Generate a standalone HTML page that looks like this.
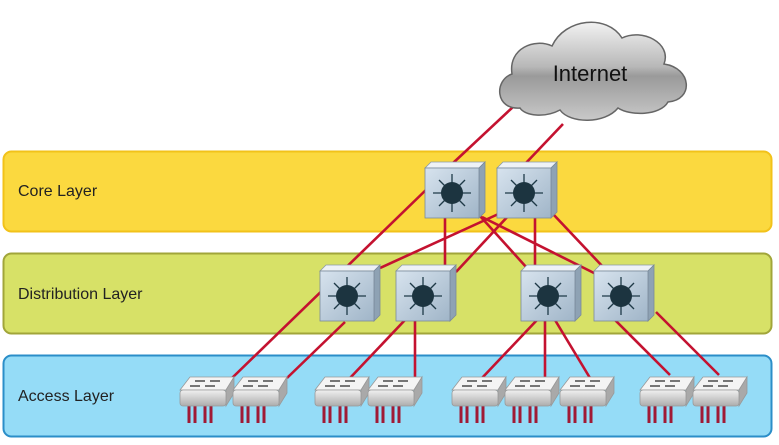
<!DOCTYPE html>
<html><head><meta charset="utf-8"><style>
html,body{margin:0;padding:0;background:#fff;width:779px;height:445px;overflow:hidden}
text{font-family:"Liberation Sans",sans-serif}
</style></head><body>
<svg width="779" height="445" viewBox="0 0 779 445" xmlns="http://www.w3.org/2000/svg">
<defs>
<linearGradient id="cl" x1="0" y1="0" x2="0" y2="1">
<stop offset="0" stop-color="#f2f2f2"/><stop offset="0.45" stop-color="#b8b8b8"/><stop offset="0.55" stop-color="#9a9a9a"/><stop offset="1" stop-color="#c9c9c9"/></linearGradient>
<linearGradient id="sf" x1="0" y1="0" x2="1" y2="1">
<stop offset="0" stop-color="#d7e3ee"/><stop offset="1" stop-color="#a0b5c8"/></linearGradient>
<linearGradient id="af" x1="0" y1="0" x2="0" y2="1">
<stop offset="0" stop-color="#f0f0f0"/><stop offset="1" stop-color="#adadad"/></linearGradient>
<g id="ms">
<path d="M0 6 L6 0 L60 0 L54 6 Z" fill="#eef2f6" stroke="#8a9aaa" stroke-width="0.8"/>
<path d="M54 6 L60 0 L60 50 L54 56 Z" fill="#8ea2b4" stroke="#7a8a9a" stroke-width="0.8"/>
<rect x="0" y="6" width="54" height="50" fill="url(#sf)" stroke="#7a8a9a" stroke-width="0.8"/>
<g stroke="#1f3a48" stroke-width="1.3" fill="#1f3a48">
<line x1="27" y1="31" x2="27" y2="12"/><line x1="27" y1="31" x2="27" y2="50"/>
<line x1="27" y1="31" x2="8" y2="31"/><line x1="27" y1="31" x2="46" y2="31"/>
<line x1="27" y1="31" x2="40" y2="18"/><line x1="27" y1="31" x2="14" y2="44"/>
<line x1="27" y1="31" x2="14" y2="18"/><line x1="27" y1="31" x2="40" y2="44"/>
</g>
<circle cx="27" cy="31" r="11" fill="#1c3440"/>
</g>
<g id="as">
<g stroke="#a01a35" stroke-width="3"><line x1="9" y1="30" x2="9" y2="47"/><line x1="15" y1="30" x2="15" y2="47"/><line x1="25" y1="30" x2="25" y2="47"/><line x1="31" y1="30" x2="31" y2="47"/></g>
<path d="M0 14 L10 1 L54 1 L46 14 Z" fill="#f4f4f4" stroke="#999" stroke-width="0.8"/>
<path d="M46 14 L54 1 L54 17 L46 30 Z" fill="#a9a9a9" stroke="#999" stroke-width="0.8"/>
<rect x="0" y="14" width="46" height="16" rx="3" fill="url(#af)" stroke="#999" stroke-width="0.8"/>
<g stroke="#555" stroke-width="1.6"><line x1="15" y1="5" x2="25" y2="5"/><line x1="30" y1="5" x2="40" y2="5"/><line x1="10" y1="10" x2="20" y2="10"/><line x1="25" y1="10" x2="35" y2="10"/></g>
</g>
</defs>
<rect x="3.5" y="151.5" width="768" height="80" rx="8" fill="#fbd93f" stroke="#f2c21a" stroke-width="2"/>
<rect x="3.5" y="253.5" width="768" height="80" rx="8" fill="#d7e167" stroke="#a1a53a" stroke-width="2"/>
<rect x="3.5" y="355.5" width="768" height="81" rx="8" fill="#95dcf7" stroke="#2b8ec8" stroke-width="2"/>
<text x="18" y="196" font-size="16" fill="#222">Core Layer</text>
<text x="18" y="299" font-size="16" fill="#222">Distribution Layer</text>
<text x="18" y="401" font-size="16" fill="#222">Access Layer</text>
<g stroke="#c41230" stroke-width="2.6" fill="none">
<line x1="514" y1="106" x2="452" y2="164"/>
<line x1="563" y1="124" x2="525" y2="164"/>
<line x1="430" y1="186" x2="232" y2="378"/>
<line x1="445" y1="218" x2="445" y2="268"/>
<line x1="505" y1="211" x2="380" y2="268"/>
<line x1="510" y1="214" x2="456" y2="272"/>
<line x1="480" y1="216" x2="527" y2="268"/>
<line x1="482" y1="217" x2="596" y2="274"/>
<line x1="535" y1="218" x2="535" y2="268"/>
<line x1="553" y1="214" x2="604" y2="268"/>
<line x1="345" y1="322" x2="287" y2="378"/>
<line x1="405" y1="320" x2="350" y2="378"/>
<line x1="415" y1="320" x2="415" y2="378"/>
<line x1="537" y1="320" x2="482" y2="378"/>
<line x1="545" y1="320" x2="545" y2="378"/>
<line x1="555" y1="320" x2="590" y2="378"/>
<line x1="615" y1="320" x2="670" y2="375"/>
<line x1="656" y1="312" x2="719" y2="375"/>
</g>
<path d="M520 108 C495 110 494 80 512 74 C508 48 535 38 552 46 C565 18 607 14 622 38 C642 28 672 43 664 64 C692 68 694 100 668 102 C660 116 630 116 618 108 C605 124 570 124 560 110 C545 118 525 116 520 108 Z" fill="url(#cl)" stroke="#666" stroke-width="1.5"/>
<text x="590" y="81" font-size="22" fill="#111" text-anchor="middle">Internet</text>
<use href="#ms" x="425" y="162"/>
<use href="#ms" x="497" y="162"/>
<use href="#ms" x="320" y="265"/>
<use href="#ms" x="396" y="265"/>
<use href="#ms" x="521" y="265"/>
<use href="#ms" x="594" y="265"/>
<use href="#as" x="180" y="376"/>
<use href="#as" x="233" y="376"/>
<use href="#as" x="315" y="376"/>
<use href="#as" x="368" y="376"/>
<use href="#as" x="452" y="376"/>
<use href="#as" x="505" y="376"/>
<use href="#as" x="560" y="376"/>
<use href="#as" x="640" y="376"/>
<use href="#as" x="693" y="376"/>
</svg>
</body></html>
